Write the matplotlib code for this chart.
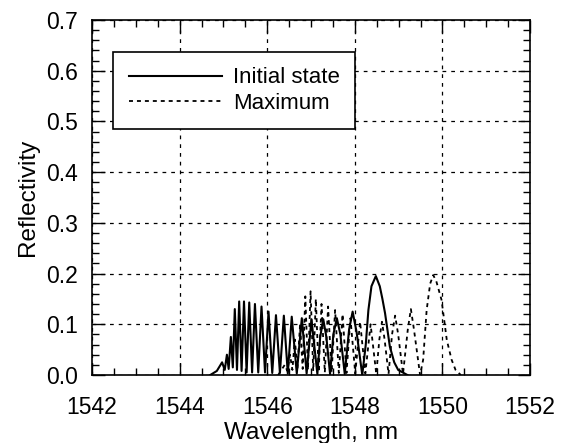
import matplotlib
matplotlib.use("Agg")
import matplotlib.pyplot as plt
from matplotlib.ticker import MultipleLocator

plt.rcParams['font.family'] = ['Liberation Sans', 'DejaVu Sans']

# Initial state spectrum (peaks / troughs)
wl_initial = [1544.70, 1544.85, 1544.97, 1545.03, 1545.08, 1545.12, 1545.17, 1545.215,
              1545.26, 1545.31, 1545.36, 1545.415, 1545.47, 1545.53, 1545.59, 1545.655,
              1545.72, 1545.795, 1545.87, 1545.95, 1546.03, 1546.115, 1546.20, 1546.29,
              1546.38, 1546.47, 1546.56, 1546.675, 1546.79, 1546.90, 1547.01, 1547.145,
              1547.21, 1547.28, 1547.35, 1547.435, 1547.51, 1547.59, 1547.67, 1547.77,
              1547.87, 1547.95, 1548.04, 1548.17, 1548.25, 1548.31, 1548.38, 1548.48,
              1548.57, 1548.63, 1548.69, 1548.80, 1548.90, 1548.99, 1549.20]
r_initial = [0.000, 0.008, 0.025, 0.010, 0.040, 0.012, 0.075, 0.015,
             0.130, 0.010, 0.145, 0.008, 0.145, 0.005, 0.143, 0.005,
             0.140, 0.005, 0.135, 0.005, 0.125, 0.004, 0.118, 0.004,
             0.117, 0.003, 0.115, 0.003, 0.112, 0.003, 0.110, 0.002,
             0.075, 0.110, 0.075, 0.002, 0.080, 0.112, 0.080, 0.002,
             0.090, 0.125, 0.085, 0.000, 0.060, 0.128, 0.175, 0.195,
             0.175, 0.150, 0.122, 0.056, 0.025, 0.010, 0.000]

# Maximum spectrum
wl_maximum = [1546.25, 1546.40, 1546.46, 1546.52, 1546.575, 1546.63, 1546.69, 1546.75,
              1546.81, 1546.87, 1546.93, 1546.99, 1547.05, 1547.11, 1547.175, 1547.24,
              1547.315, 1547.39, 1547.47, 1547.55, 1547.635, 1547.72, 1547.81, 1547.90,
              1548.01, 1548.12, 1548.24, 1548.36, 1548.49, 1548.56, 1548.62, 1548.68,
              1548.77, 1548.85, 1548.92, 1548.99, 1549.10, 1549.21, 1549.28, 1549.35,
              1549.49, 1549.56, 1549.64, 1549.72, 1549.79, 1549.86, 1549.98, 1550.10,
              1550.21, 1550.30, 1550.42]
r_maximum = [0.000, 0.020, 0.008, 0.040, 0.010, 0.070, 0.012, 0.100,
             0.012, 0.155, 0.010, 0.165, 0.008, 0.150, 0.006, 0.140,
             0.005, 0.135, 0.005, 0.128, 0.004, 0.120, 0.004, 0.112,
             0.003, 0.105, 0.003, 0.100, 0.002, 0.070, 0.105, 0.070,
             0.002, 0.080, 0.117, 0.080, 0.002, 0.090, 0.130, 0.090,
             0.000, 0.030, 0.128, 0.180, 0.197, 0.185, 0.148, 0.069,
             0.030, 0.010, 0.000]

x_ticks = [1542, 1544, 1546, 1548, 1550, 1552]
y_ticks = [0.0, 0.1, 0.2, 0.3, 0.4, 0.5, 0.6, 0.7]

fig = plt.figure(figsize=(5.62, 4.43), dpi=100)
ax = fig.add_axes([0.1637, 0.1535, 0.7794, 0.8014])

ax.plot(wl_initial, r_initial, color='black', lw=1.5, ls='-', label='Initial state')
ax.plot(wl_maximum, r_maximum, color='black', lw=1.3, ls=(0, (2.2, 2.2)), label='Maximum')

ax.set_xlim(1542, 1552)
ax.set_ylim(0, 0.7)
ax.set_xticks(x_ticks)
ax.set_yticks(y_ticks)
ax.set_yticklabels([f"{v:.1f}" for v in y_ticks])
ax.xaxis.set_minor_locator(MultipleLocator(0.5))
ax.yaxis.set_minor_locator(MultipleLocator(0.02))
ax.tick_params(which='both', direction='in', top=True, right=True, labelsize=16.5, width=1)
ax.tick_params(which='major', length=9)
ax.tick_params(which='minor', length=5)
ax.tick_params(axis='x', which='major', pad=15)
ax.tick_params(axis='y', which='major', pad=10)
for s in ax.spines.values():
    s.set_linewidth(1.2)
ax.grid(True, which='major', color='black', ls=(0, (3, 4)), lw=0.9)

ax.set_xlabel('Wavelength, nm', fontsize=17.5, labelpad=2)
ax.set_ylabel('Reflectivity', fontsize=17.5, labelpad=5)

leg = ax.legend(loc='upper left', bbox_to_anchor=(0.048, 0.91), fontsize=16,
                frameon=True, fancybox=False, edgecolor='black', handlelength=4.2,
                borderpad=0.7, labelspacing=0.2, handletextpad=0.5, borderaxespad=0)
leg.get_frame().set_linewidth(1.2)
leg.get_frame().set_alpha(1)

fig.savefig('out.png', dpi=100)
